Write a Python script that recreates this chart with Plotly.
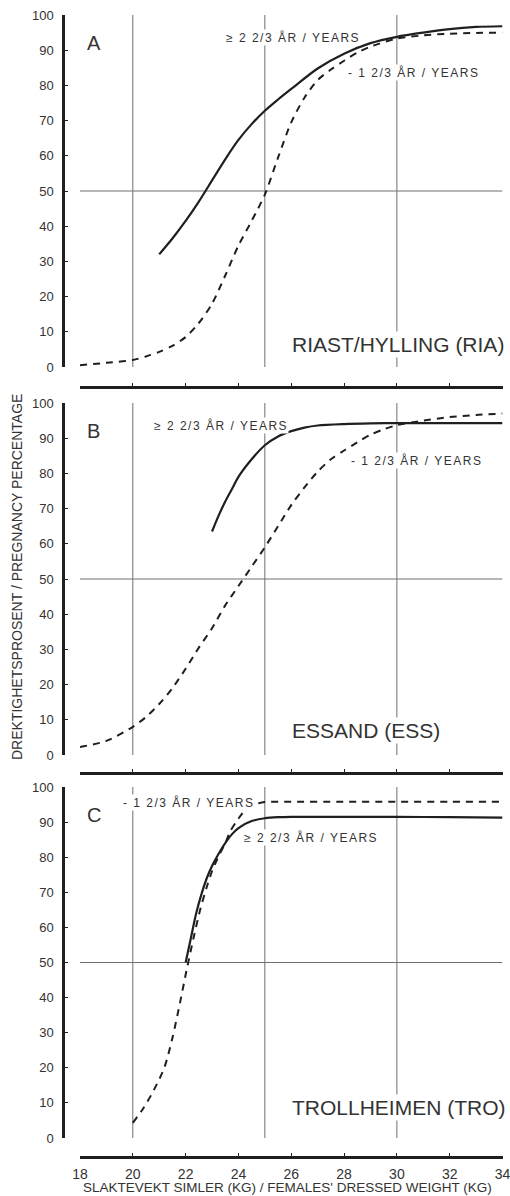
import plotly.graph_objects as go

# ---------------- data ----------------
x_ticks = [18, 20, 22, 24, 26, 28, 30, 32, 34]
y_ticks = [0, 10, 20, 30, 40, 50, 60, 70, 80, 90, 100]
ref_x = [20, 25, 30]
ref_y = 50

# Panel A – Riast/Hylling
a_old_x = [21, 21.5, 22, 22.5, 23, 23.5, 24, 24.5, 25, 25.5, 26, 27, 28, 29, 30, 31, 32, 33, 34]
a_old_y = [32, 36.5, 41.5, 47, 53, 59, 64.5, 69, 72.8, 76, 79, 84.8, 89, 92, 93.8, 95, 96, 96.6, 96.8]
a_young_x = [18, 19, 20, 20.5, 21, 21.5, 22, 22.5, 23, 23.5, 24, 24.5, 25, 25.5, 26, 26.5, 27, 27.5, 28, 28.5, 29, 30, 31, 32, 33, 34]
a_young_y = [0.5, 1.2, 2, 3, 4.3, 6, 8.5, 12.5, 18, 26, 34.5, 41.5, 49, 59.5, 69.5, 76.5, 81.5, 84.5, 87, 89.3, 91, 93.3, 94.2, 94.7, 94.9, 95]

# Panel B – Essand
b_old_x = [23, 23.25, 23.5, 23.75, 24, 24.5, 25, 25.5, 26, 26.5, 27, 28, 29, 30, 32, 34]
b_old_y = [63.5, 68, 72, 75.5, 79, 84, 88, 90.5, 92, 93, 93.6, 94, 94.2, 94.3, 94.3, 94.3]
b_young_x = [18, 19, 20, 20.5, 21, 21.5, 22, 22.5, 23, 23.5, 24, 24.5, 25, 25.5, 26, 26.5, 27, 27.5, 28, 28.5, 29, 29.5, 30, 31, 32, 33, 34]
b_young_y = [2.3, 4, 8, 10.8, 14.5, 19, 24.5, 30.5, 36, 42.5, 48, 53.5, 59, 65, 71, 76, 80.5, 84, 86.5, 88.8, 91, 92.5, 93.7, 95, 96, 96.6, 97]

# Panel C – Trollheimen
c_old_x = [22, 22.2, 22.4, 22.6, 22.8, 23, 23.25, 23.5, 23.75, 24, 24.5, 25, 25.5, 26, 28, 30, 32, 34]
c_old_y = [50, 57, 64, 69.5, 74, 77.5, 81, 84, 86.5, 88.3, 90.3, 91.1, 91.4, 91.5, 91.5, 91.5, 91.4, 91.3]
c_young_x = [20, 20.4, 20.8, 21.2, 21.5, 21.8, 22, 22.3, 22.55, 22.8, 23, 23.2, 23.5, 23.7, 24, 24.3, 24.6, 25, 26, 28, 30, 32, 34]
c_young_y = [4.3, 8.5, 13.7, 20.2, 28.5, 39, 46.5, 57, 65, 71.5, 76, 79.5, 84, 87.5, 91, 93.8, 95, 95.7, 95.8, 95.8, 95.8, 95.8, 95.8]

panel_letters = ["A", "B", "C"]
panel_names = ["RIAST/HYLLING (RIA)", "ESSAND (ESS)", "TROLLHEIMEN (TRO)"]
old_label = "≥ 2 2/3 ÅR / YEARS"
young_label = "- 1 2/3 ÅR / YEARS"
x_title = "SLAKTEVEKT SIMLER (KG) / FEMALES' DRESSED WEIGHT (KG)"
y_title = "DREKTIGHETSPROSENT / PREGNANCY PERCENTAGE"

# label anchor positions (data units)
old_label_pos = [(23.5, 93.5), (20.77, 93.7), (24.18, 85.7)]
young_label_pos = [(28.1, 83.8), (28.24, 83.8), (19.59, 95.7)]
name_pos_y = [6.3, 7.1, 8.8]

# ---------------- layout geometry ----------------
W, H = 510, 1196
ink = "#1f1f1f"
txt = "#333333"
guide = "#6f6f6f"

def py(p):
    return 1 - p / H

panels = [
    dict(top=15, bottom=367, xline=387),
    dict(top=403, bottom=755, xline=773),
    dict(top=787, bottom=1138, xline=1157),
]
curves = [
    (a_old_x, a_old_y, a_young_x, a_young_y),
    (b_old_x, b_old_y, b_young_x, b_young_y),
    (c_old_x, c_old_y, c_young_x, c_young_y),
]

fig = go.Figure()
layout = dict(
    width=W, height=H,
    margin=dict(l=0, r=0, t=0, b=0, autoexpand=False),
    paper_bgcolor="white", plot_bgcolor="white",
    showlegend=False,
    font=dict(family="Liberation Sans, Arial, sans-serif", color=txt),
)
shapes = []
annotations = []

def spaced(s, sp=1.5):
    return f'<span style="letter-spacing:{sp}px">{s}</span>'

for i, (pn, cv) in enumerate(zip(panels, curves)):
    n = "" if i == 0 else str(i + 1)
    xa, ya = "x" + n, "y" + n
    ox, oy, yx, yy = cv
    fig.add_trace(go.Scatter(x=ox, y=oy, xaxis=xa, yaxis=ya, mode="lines",
                             line=dict(color=ink, width=2.2, shape="spline", smoothing=0.8),
                             hoverinfo="skip"))
    fig.add_trace(go.Scatter(x=yx, y=yy, xaxis=xa, yaxis=ya, mode="lines",
                             line=dict(color=ink, width=2, dash="7px,6px", shape="spline", smoothing=0.8),
                             hoverinfo="skip"))

    layout["xaxis" + n] = dict(
        domain=[80 / W, 502.5 / W], range=[18, 34], anchor="free", automargin=False,
        position=py(pn["xline"]), showline=True, linewidth=2.5, linecolor=ink,
        ticks="inside", ticklen=3, tickwidth=1, tickcolor=ink,
        tickvals=x_ticks, showticklabels=(i == 2), showgrid=False, zeroline=False,
        tickfont=dict(size=14, color=txt), ticklabelstandoff=3,
        ticklabeloverflow="allow",
    )
    layout["yaxis" + n] = dict(
        domain=[py(pn["bottom"]), py(pn["top"])], range=[0, 100], anchor="free",
        automargin=False,
        position=63 / W, showline=True, linewidth=2.5, linecolor=ink,
        ticks="inside", ticklen=3, tickwidth=1, tickcolor=ink,
        tickvals=y_ticks, showgrid=False, zeroline=False,
        tickfont=dict(size=13, color=txt), ticklabelstandoff=6,
    )
    shapes.append(dict(type="line", xref=xa, yref=ya, x0=18, x1=34, y0=ref_y, y1=ref_y,
                       line=dict(color=guide, width=1), layer="below"))
    for rx in ref_x:
        shapes.append(dict(type="line", xref=xa, yref=ya, x0=rx, x1=rx, y0=0, y1=100,
                           line=dict(color=guide, width=1), layer="below"))

    annotations.append(dict(xref=xa, yref=ya, x=18.2, y=92, text=panel_letters[i],
                            showarrow=False, xanchor="left", yanchor="middle",
                            font=dict(size=20, color=txt)))
    annotations.append(dict(xref=xa, yref=ya, x=25.96, y=name_pos_y[i], text=panel_names[i],
                            showarrow=False, xanchor="left", yanchor="middle",
                            bgcolor="white", font=dict(size=21, color=txt)))
    lx, ly = old_label_pos[i]
    annotations.append(dict(xref=xa, yref=ya, x=lx, y=ly, text=spaced(old_label),
                            showarrow=False, xanchor="left", yanchor="middle",
                            bgcolor="white", borderpad=0, font=dict(size=12, color=txt)))
    lx, ly = young_label_pos[i]
    annotations.append(dict(xref=xa, yref=ya, x=lx, y=ly, text=spaced(young_label),
                            showarrow=False, xanchor="left", yanchor="middle",
                            bgcolor="white", borderpad=0, font=dict(size=12, color=txt)))

annotations.append(dict(xref="paper", yref="paper", x=287 / W, y=py(1187), text=x_title,
                        showarrow=False, xanchor="center", yanchor="middle",
                        font=dict(size=13.5, color=txt)))
annotations.append(dict(xref="paper", yref="paper", x=17 / W, y=py(577), text=y_title,
                        showarrow=False, xanchor="center", yanchor="middle", textangle=-90,
                        font=dict(size=14, color=txt)))

layout["shapes"] = shapes
layout["annotations"] = annotations
fig.update_layout(**layout)
fig.write_html(
    "out.html",
    config={"displayModeBar": False},
    post_script="document.body.style.margin='0';document.body.style.padding='0';"
                "document.documentElement.style.overflow='hidden';",
)
